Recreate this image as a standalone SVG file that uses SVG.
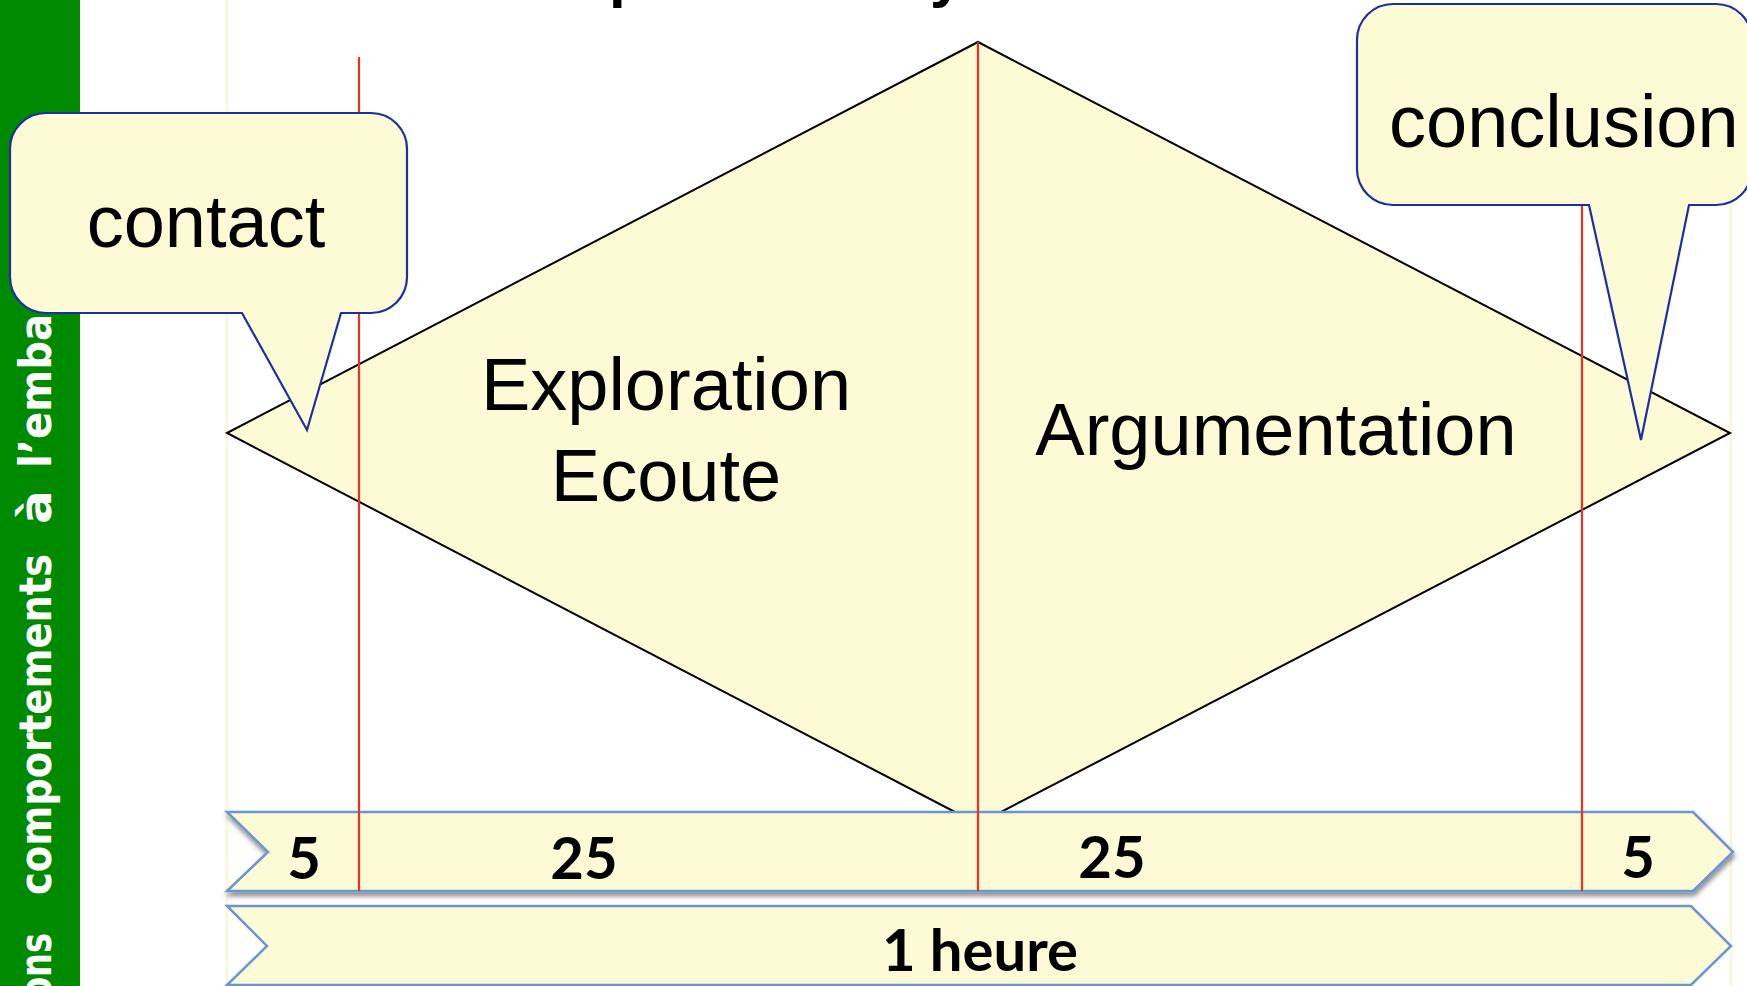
<svg xmlns="http://www.w3.org/2000/svg" width="1747" height="986" viewBox="0 0 1747 986">
  <defs>
    <style>
      .dia { fill: #FDFAD6; stroke: #000; stroke-width: 2; stroke-linejoin: miter; }
      .bar { fill: #FDFAD6; stroke: #6A97CF; stroke-width: 2.5; }
      .call { fill: #FDFAD6; stroke: #1C2FA0; stroke-width: 2.2; stroke-linejoin: miter; }
      .red { stroke: #F0301E; stroke-width: 2.2; fill: none; }
      .faint { stroke: #FBF7D6; stroke-width: 2.5; fill: none; }
      .big { font-family: "Liberation Sans", Arial, sans-serif; font-size: 74px; fill: #000; }
      .num { font-family: Lato, "Open Sans", sans-serif; font-weight: 700; font-size: 58px; fill: #000; text-anchor: middle; }
      .side { font-family: "DejaVu Sans", sans-serif; font-weight: 700; font-size: 44px; fill: #fff; }
      .title { font-family: "Liberation Sans", Arial, sans-serif; font-weight: 700; font-size: 60px; fill: #000; }
    </style>
    <filter id="shadow" x="-5%" y="-20%" width="110%" height="160%">
      <feDropShadow dx="1" dy="4" stdDeviation="2.5" flood-color="#000" flood-opacity="0.45"/>
    </filter>
  </defs>

  <rect x="0" y="0" width="1747" height="986" fill="#fff"/>

  <!-- title fragments (cut off at top) -->
  <g id="title">
    <text class="title" x="609" y="-4">p</text>
    <text class="title" x="930" y="-4">y</text>
  </g>

  <!-- green side band -->
  <g id="sideband">
    <rect x="0" y="0" width="80" height="986" fill="#008A00"/>
    <text class="side" transform="rotate(-90)" y="51">
      <tspan x="-1000" textLength="67" lengthAdjust="spacingAndGlyphs">ons</tspan>
      <tspan x="-895" textLength="341" lengthAdjust="spacingAndGlyphs">comportements</tspan>
      <tspan x="-524" textLength="34" lengthAdjust="spacingAndGlyphs">à</tspan>
      <tspan x="-468" textLength="154" lengthAdjust="spacingAndGlyphs">l’emba</tspan>
    </text>
  </g>

  <!-- faint frame lines -->
  <g id="frame">
    <line class="faint" x1="227" y1="0" x2="227" y2="986"/>
    <line class="faint" x1="1731" y1="0" x2="1731" y2="986"/>
  </g>

  <!-- diamond -->
  <g id="diamond">
    <polygon class="dia" points="227,433 978,42 1730,433 978,824"/>
    <text class="big" x="666" y="410" text-anchor="middle">Exploration</text>
    <text class="big" x="666" y="501" text-anchor="middle">Ecoute</text>
    <text class="big" x="1276" y="455" text-anchor="middle">Argumentation</text>
  </g>

  <!-- time bars -->
  <g id="bar-parts">
    <polygon class="bar" filter="url(#shadow)" points="227,812 1693,812 1733,852 1693,891 227,891 268,852"/>
    <text class="num" x="304" y="879">5</text>
    <text class="num" x="584" y="879">25</text>
    <text class="num" x="1112" y="878">25</text>
    <text class="num" x="1638" y="878">5</text>
  </g>
  <g id="bar-total">
    <polygon class="bar" points="227,906 1691,906 1731,946 1691,985 227,985 267,946"/>
    <text class="num" x="980" y="971">1 heure</text>
  </g>

  <!-- red separators -->
  <g id="connectors">
    <line class="red" x1="359" y1="57" x2="359" y2="891"/>
    <line class="red" x1="978" y1="42" x2="978" y2="891"/>
    <line class="red" x1="1582" y1="180" x2="1582" y2="891"/>
  </g>

  <!-- callouts -->
  <g id="callout-contact">
    <path class="call" d="M46,113 H371 A36,36 0 0 1 407,149 V277 A36,36 0 0 1 371,313 H341 L307,430 L242,313 H46 A36,36 0 0 1 10,277 V149 A36,36 0 0 1 46,113 Z"/>
    <text class="big" x="206" y="247" text-anchor="middle">contact</text>
  </g>
  <g id="callout-conclusion">
    <path class="call" d="M1393,4 H1716 A36,36 0 0 1 1752,40 V169 A36,36 0 0 1 1716,205 H1689 L1641,440 L1589,205 H1393 A36,36 0 0 1 1357,169 V40 A36,36 0 0 1 1393,4 Z"/>
    <text class="big" x="1389" y="147">conclusion</text>
  </g>
</svg>
